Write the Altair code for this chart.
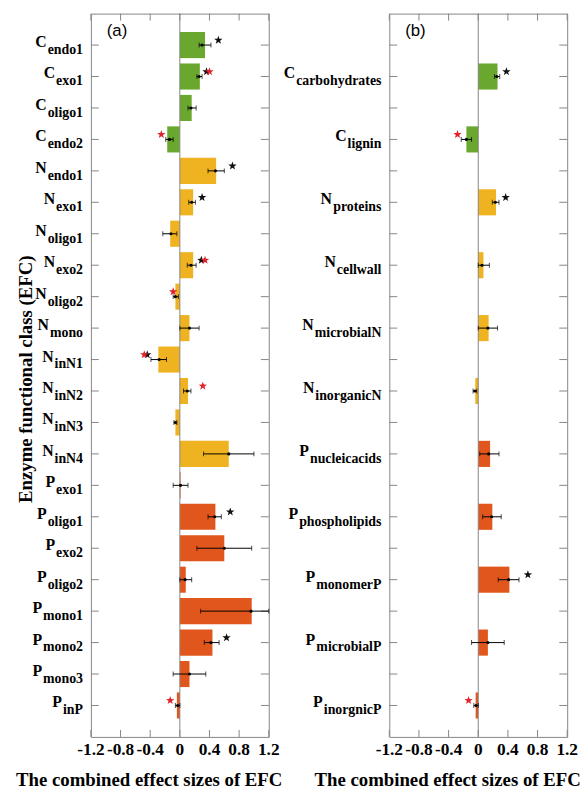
import math
import altair as alt
import pandas as pd

# ---------------- data: panel (a) ----------------
A_MAIN = ["C", "C", "C", "C", "N", "N", "N", "N", "N", "N", "N", "N", "N", "N",
          "P", "P", "P", "P", "P", "P", "P", "P"]
A_SUB = ["endo1", "exo1", "oligo1", "endo2", "endo1", "exo1", "oligo1", "exo2",
         "oligo2", "mono", "inN1", "inN2", "inN3", "inN4", "exo1", "oligo1",
         "exo2", "oligo2", "mono1", "mono2", "mono3", "inP"]
A_BAR = [0.34, 0.27, 0.16, -0.17, 0.49, 0.18, -0.13, 0.18, -0.06, 0.13, -0.29,
         0.11, -0.06, 0.66, 0.01, 0.48, 0.60, 0.08, 0.97, 0.44, 0.13, -0.04]
A_MEAN = [0.30, 0.26, 0.15, -0.14, 0.48, 0.16, -0.12, 0.15, -0.06, 0.13, -0.28,
          0.10, -0.06, 0.66, 0.01, 0.47, 0.60, 0.07, 0.96, 0.42, 0.13, -0.03]
A_LO = [0.26, 0.23, 0.11, -0.19, 0.38, 0.12, -0.23, 0.10, -0.09, 0.0, -0.39,
        0.05, -0.08, 0.32, -0.09, 0.38, 0.23, 0.0, 0.28, 0.33, -0.09, -0.06]
A_HI = [0.42, 0.30, 0.22, -0.09, 0.60, 0.21, -0.04, 0.22, -0.02, 0.26, -0.18,
        0.15, -0.04, 1.00, 0.11, 0.56, 0.97, 0.16, 1.20, 0.53, 0.35, 0.0]
A_BLACK_CAT = ["Cendo1", "Cexo1", "Nendo1", "Nexo1", "Nexo2", "NinN1", "Poligo1", "Pmono2"]
A_BLACK_X = [0.52, 0.36, 0.71, 0.30, 0.29, -0.44, 0.68, 0.63]
A_RED_CAT = ["Cexo1", "Cendo2", "Nexo2", "Noligo2", "NinN1", "NinN2", "PinP"]
A_RED_X = [0.40, -0.25, 0.34, -0.09, -0.48, 0.31, -0.13]

# ---------------- data: panel (b) ----------------
B_MAIN = ["C", "C", "N", "N", "N", "N", "P", "P", "P", "P", "P"]
B_SUB = ["carbohydrates", "lignin", "proteins", "cellwall", "microbialN",
         "inorganicN", "nucleicacids", "phospholipids", "monomerP",
         "microbialP", "inorgnicP"]
B_BAR = [0.26, -0.16, 0.24, 0.07, 0.14, -0.04, 0.16, 0.19, 0.42, 0.13, -0.035]
B_MEAN = [0.25, -0.16, 0.23, 0.05, 0.13, -0.045, 0.14, 0.18, 0.41, 0.13, -0.03]
B_LO = [0.22, -0.23, 0.19, 0.0, 0.0, -0.07, 0.02, 0.06, 0.27, -0.09, -0.06]
B_HI = [0.29, -0.09, 0.28, 0.15, 0.26, -0.02, 0.28, 0.31, 0.55, 0.35, 0.0]
B_BLACK_CAT = ["Ccarbohydrates", "Nproteins", "PmonomerP"]
B_BLACK_X = [0.38, 0.37, 0.67]
B_RED_CAT = ["Clignin", "PinorgnicP"]
B_RED_X = [-0.28, -0.13]

X_TICKS = [-1.2, -0.8, -0.4, 0, 0.4, 0.8, 1.2]
X_MIN, X_MAX = -1.2, 1.2
X_TITLE = "The combined effect sizes of EFC"
Y_TITLE = "Enzyme functional class (EFC)"
GROUPS = ["C", "N", "P"]
GROUP_COLORS = ["#6aa72f", "#efb321", "#e0561c"]

# ---------------- style ----------------
SERIF = "Liberation Serif"
SANS = "Liberation Sans"
FRAME = "#858585"
W, H = 180, 732
TICK = 7
MAIN_FS, SUB_FS = 16, 14


def star_path(r_in=0.4):
    pts = []
    for k in range(10):
        ang = math.radians(-90 + 36 * k)
        r = 1.0 if k % 2 == 0 else r_in
        pts.append("%.3f,%.3f" % (r * math.cos(ang), r * math.sin(ang)))
    return "M" + "L".join(pts) + "Z"


STAR = star_path()

# approximate Times-Bold advance widths (em) for right-aligned composite labels
_TW = dict(a=.5, b=.556, c=.444, d=.556, e=.444, f=.333, g=.5, h=.556, i=.278,
           j=.333, k=.556, l=.278, m=.833, n=.556, o=.5, p=.556, q=.556, r=.444,
           s=.389, t=.333, u=.556, v=.5, w=.722, x=.5, y=.5, z=.444, N=.722,
           P=.611, C=.722)


def text_w(s, fs):
    return sum(_TW.get(ch, 0.5) for ch in s) * fs


def panel(slots, main, sub, bar, mean, lo, hi, bcat, bx, rcat, rx, tag, ytitle=None):
    df = pd.DataFrame({"main": main, "sub": sub, "bar": bar, "mean": mean,
                       "lo": lo, "hi": hi})
    df["key"] = df["main"] + df["sub"]
    df["lpx"] = [-8 - text_w(s, SUB_FS) - 1 for s in sub]
    xs = alt.Scale(domain=[X_MIN, X_MAX], nice=False, zero=False)
    ys = alt.Scale(domain=slots, paddingInner=0.17, paddingOuter=0.585)
    y_plain = alt.Y("key:N", scale=ys, axis=None)
    base = alt.Chart(df)
    slot_df = pd.DataFrame({"key": slots})
    xt_df = pd.DataFrame({"t": X_TICKS})

    bars = base.mark_bar().encode(
        x=alt.X("bar:Q", scale=xs, axis=None),
        y=y_plain,
        color=alt.Color("main:N", scale=alt.Scale(domain=GROUPS, range=GROUP_COLORS),
                        legend=None),
    )
    zero = alt.Chart(pd.DataFrame({"z": [0]})).mark_rule(color=FRAME, strokeWidth=1).encode(
        x=alt.X("z:Q", scale=xs, axis=None))

    # inward ticks on the frame
    yt_left = alt.Chart(slot_df).mark_rule(color=FRAME, strokeWidth=1).encode(
        y=y_plain, x=alt.value(0), x2=alt.value(TICK + 1))
    yt_right = alt.Chart(slot_df).mark_rule(color=FRAME, strokeWidth=1).encode(
        y=y_plain, x=alt.value(W - TICK - 1), x2=alt.value(W))
    xt_top = alt.Chart(xt_df).mark_rule(color=FRAME, strokeWidth=1).encode(
        x=alt.X("t:Q", scale=xs, axis=None), y=alt.value(0), y2=alt.value(TICK))
    xt_bot = alt.Chart(xt_df).mark_rule(color=FRAME, strokeWidth=1).encode(
        x=alt.X("t:Q", scale=xs, axis=None), y=alt.value(H - TICK), y2=alt.value(H))
    # x tick labels and x title
    xt_lab = alt.Chart(xt_df).transform_calculate(lab="'' + datum.t").mark_text(
        baseline="top", align="center", font=SERIF, fontWeight="bold", fontSize=17.5,
        color="black").encode(
        x=alt.X("t:Q", scale=xs, axis=None), y=alt.value(H + 4), text="lab:N")
    x_title = alt.Chart(pd.DataFrame({"t": [X_TITLE]})).mark_text(
        baseline="alphabetic", align="center", font=SERIF, fontWeight="bold",
        fontSize=19, color="black").encode(
        x=alt.value(59), y=alt.value(H + 50), text="t:N")

    errs = base.mark_rule(color="black", strokeWidth=1).encode(
        x=alt.X("lo:Q", scale=xs, axis=None), x2="hi:Q", y=y_plain)
    cap_lo = base.mark_tick(color="black", size=5, thickness=1).encode(
        x=alt.X("lo:Q", scale=xs, axis=None), y=y_plain)
    cap_hi = base.mark_tick(color="black", size=5, thickness=1).encode(
        x=alt.X("hi:Q", scale=xs, axis=None), y=y_plain)
    dots = base.mark_circle(color="black", size=10, opacity=1).encode(
        x=alt.X("mean:Q", scale=xs, axis=None), y=y_plain)

    sb = pd.DataFrame({"key": bcat, "sx": bx})
    sr = pd.DataFrame({"key": rcat, "sx": rx})
    stars_b = alt.Chart(sb).mark_point(shape=STAR, filled=True, size=80, opacity=1,
                                       color="#111111", yOffset=-5).encode(
        x=alt.X("sx:Q", scale=xs, axis=None), y=y_plain)
    stars_r = alt.Chart(sr).mark_point(shape=STAR, filled=True, size=80, opacity=1,
                                       color="#e0232b", yOffset=-5).encode(
        x=alt.X("sx:Q", scale=xs, axis=None), y=y_plain)

    lab_main = base.transform_calculate(
        lx=f"{X_MIN} + datum.lpx * {(X_MAX - X_MIN) / W}"
    ).mark_text(align="right", baseline="alphabetic", dy=2, font=SERIF,
                fontWeight="bold", fontSize=MAIN_FS, color="black").encode(
        x=alt.X("lx:Q", scale=xs, axis=None), y=y_plain, text="main:N")
    lab_sub = base.mark_text(align="right", baseline="alphabetic", dy=9, font=SERIF,
                             fontWeight="bold", fontSize=SUB_FS, color="black").encode(
        x=alt.value(-8), y=y_plain, text="sub:N")

    tag_l = alt.Chart(pd.DataFrame({"t": [tag]})).mark_text(
        align="left", baseline="middle", font=SANS, fontSize=17, color="black").encode(
        x=alt.value(16), y=alt.value(18), text="t:N")

    layers = [bars, zero, yt_left, yt_right, xt_top, xt_bot, xt_lab, x_title,
              errs, cap_lo, cap_hi, dots, stars_b, stars_r, lab_main, lab_sub, tag_l]
    if ytitle:
        yt = alt.Chart(pd.DataFrame({"t": [ytitle]})).mark_text(
            align="center", baseline="middle", angle=270, font=SERIF,
            fontWeight="bold", fontSize=19, color="black").encode(
            x=alt.value(-66), y=alt.value(H / 2 + 4), text="t:N")
        layers.append(yt)
    return alt.layer(*layers).properties(width=W, height=H)


a_slots = [m + s for m, s in zip(A_MAIN, A_SUB)]
b_keys = [m + s for m, s in zip(B_MAIN, B_SUB)]
b_slots = []
for i, k in enumerate(b_keys):
    b_slots += ["_gap%d" % i, k]

pa = panel(a_slots, A_MAIN, A_SUB, A_BAR, A_MEAN, A_LO, A_HI,
           A_BLACK_CAT, A_BLACK_X, A_RED_CAT, A_RED_X, "(a)", Y_TITLE)
pb = panel(b_slots, B_MAIN, B_SUB, B_BAR, B_MEAN, B_LO, B_HI,
           B_BLACK_CAT, B_BLACK_X, B_RED_CAT, B_RED_X, "(b)")

chart = alt.hconcat(pa, pb, spacing=122, bounds="flush").configure_view(
    stroke=FRAME, strokeWidth=1).properties(
    padding={"left": 15, "top": 8, "right": 0, "bottom": 0})

chart.save("out.html", embed_options={"renderer": "svg", "actions": False})
